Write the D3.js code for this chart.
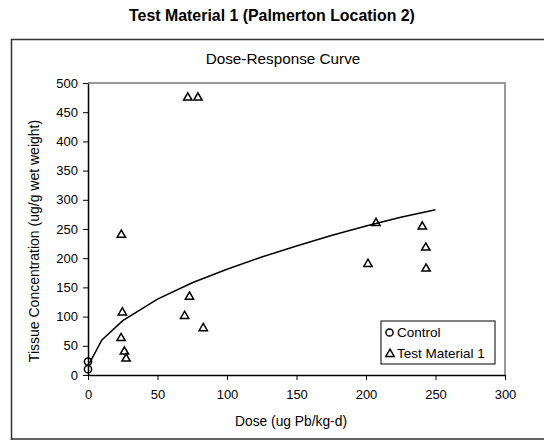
<!DOCTYPE html>
<html><head><meta charset="utf-8">
<script src="https://cdn.jsdelivr.net/npm/d3@7"></script>
<style>body{margin:0;background:#fff;} svg{display:block;font-family:"Liberation Sans",Arial,sans-serif;}</style>
</head><body>
<svg id="c" width="544" height="440"></svg>
<script>
const controlDose = [0, 0];
const controlConc = [10, 23];
const testDose = [24, 24.7, 23.8, 26.2, 27.4, 71.8, 79.1, 73, 69.5, 82.9, 201.4, 207.2, 240.5, 243, 243.2];
const testConc = [240, 107, 63, 40, 28, 475, 475, 134, 101, 80, 190, 260, 254, 218, 182];
const curveDose = [1, 10, 25, 50, 75, 100, 125, 150, 175, 200, 225, 250];
const curveConc = [20, 60, 93, 130, 158, 181, 202, 221, 239, 255, 270, 283];
const xTicks = [0, 50, 100, 150, 200, 250, 300];
const yTicks = [0, 50, 100, 150, 200, 250, 300, 350, 400, 450, 500];

const FF = '"Liberation Sans",Arial,sans-serif';
const svg = d3.select("#c");
const x = d3.scaleLinear().domain([0, 300]).range([88, 505]);
const y = d3.scaleLinear().domain([0, 500]).range([375, 83]);

svg.append("text").attr("x", 272).attr("y", 21).attr("text-anchor", "middle")
  .attr("font-size", 15.9).attr("font-weight", "bold").text("Test Material 1 (Palmerton Location 2)");

// outer frame
svg.append("path").attr("d", "M11.5,560 V39.5 H560 M11.5,439 H560").attr("fill", "none").attr("stroke", "#333").attr("stroke-width", 1.5);

svg.append("text").attr("x", 283).attr("y", 64).attr("text-anchor", "middle").attr("font-size", 15.3).text("Dose-Response Curve");

// plot border (top/right gray)
svg.append("path").attr("d", `M${x(0)},${y(500)} H${x(300)} V${y(0)}`).attr("fill", "none").attr("stroke", "#999").attr("stroke-width", 2);

const yAxis = d3.axisLeft(y).tickValues(yTicks).tickSize(5).tickSizeOuter(0).tickPadding(5);
const gy = svg.append("g").attr("transform", `translate(${x(0)},0)`).call(yAxis);
const xAxis = d3.axisBottom(x).tickValues(xTicks).tickSize(5).tickSizeOuter(0).tickPadding(10);
const gx = svg.append("g").attr("transform", `translate(0,${y(0)})`).call(xAxis);
[gy, gx].forEach(g => {
  g.selectAll("text").attr("font-size", 13).attr("font-family", FF).attr("fill", "#000");
  g.select(".domain").attr("stroke", "#000").attr("stroke-width", 1.5);
  g.selectAll(".tick line").attr("stroke", "#000");
});

svg.append("text").attr("x", 291).attr("y", 426).attr("text-anchor", "middle").attr("font-size", 13.8).text("Dose (ug Pb/kg-d)");
svg.append("text").attr("transform", "translate(38.5,241) rotate(-90)").attr("text-anchor", "middle").attr("font-size", 14).text("Tissue Concentration (ug/g wet weight)");

// curve
const line = d3.line().x(d => x(d[0])).y(d => y(d[1]));
svg.append("path").datum(curveDose.map((d, i) => [d, curveConc[i]])).attr("d", line)
  .attr("fill", "none").attr("stroke", "#000").attr("stroke-width", 1.5);

const tri = d3.symbol().type(d3.symbolTriangle).size(30);
svg.append("g").selectAll("path").data(testDose.map((d, i) => [d, testConc[i]])).join("path")
  .attr("d", tri).attr("transform", d => `translate(${x(d[0])},${y(d[1])})`)
  .attr("fill", "none").attr("stroke", "#000").attr("stroke-width", 1.5);
svg.append("g").selectAll("circle").data(controlDose.map((d, i) => [d, controlConc[i]])).join("circle")
  .attr("cx", d => x(d[0])).attr("cy", d => y(d[1])).attr("r", 3.6)
  .attr("fill", "none").attr("stroke", "#000").attr("stroke-width", 1.5);

// legend
const lg = svg.append("g");
lg.append("rect").attr("x", 381).attr("y", 321).attr("width", 114).attr("height", 43).attr("fill", "#fff").attr("stroke", "#000").attr("stroke-width", 1);
lg.append("circle").attr("cx", 389.5).attr("cy", 332.5).attr("r", 3.6).attr("fill", "none").attr("stroke", "#000").attr("stroke-width", 1.5);
lg.append("text").attr("x", 397).attr("y", 337).attr("font-size", 13.5).text("Control");
lg.append("path").attr("d", tri).attr("transform", "translate(390,354)").attr("fill", "none").attr("stroke", "#000").attr("stroke-width", 1.5);
lg.append("text").attr("x", 397).attr("y", 358).attr("font-size", 13.5).text("Test Material 1");
</script>
</body></html>
